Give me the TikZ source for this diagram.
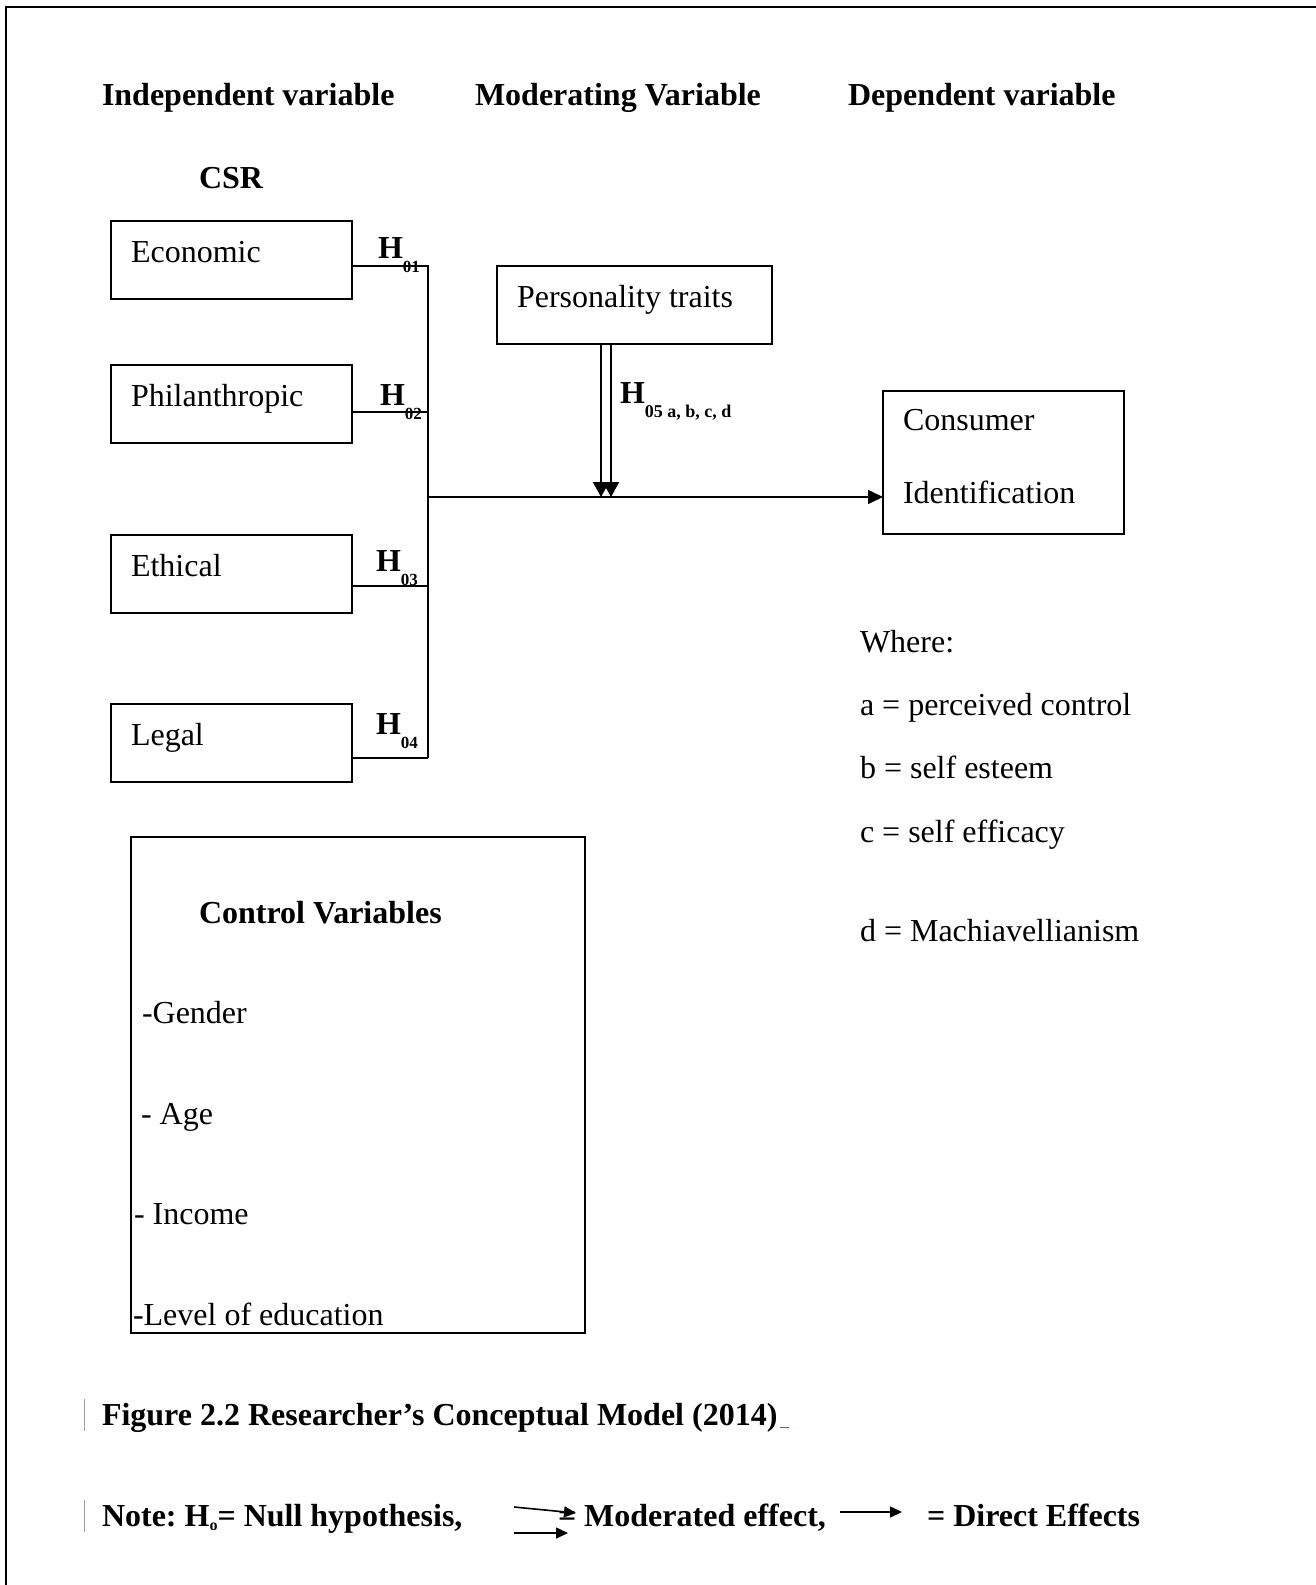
\documentclass[tikz,border=0pt]{standalone}
\usepackage{fontspec}
\setmainfont{Liberation Serif}
\usetikzlibrary{arrows.meta, positioning}
\definecolor{cInk}{HTML}{000000}
\definecolor{cBar}{HTML}{A0A0A0}
\definecolor{cLink}{HTML}{3C6EC0}
\frenchspacing
\newcommand{\hsub}[1]{\raisebox{-14pt}{\fontsize{17}{17}\selectfont #1}}
\newcommand{\hyp}[1]{\textbf{H\hsub{#1}}}
\tikzset{
  lab/.style={anchor=base west, inner sep=0pt, outer sep=0pt, text=cInk,
              font=\fontsize{32}{38}\selectfont},
  head/.style={lab, font=\fontsize{32}{38}\selectfont\bfseries},
  varbox/.style={draw=cInk, line width=1.6pt, anchor=north west, align=flush left, outer sep=0pt,
                 inner xsep=20pt, inner ysep=0pt, text height=41pt, text depth=37pt,
                 text width=201pt, text=cInk, font=\fontsize{32}{38}\selectfont},
  link/.style={draw=cInk, line width=1.6pt},
  direct/.style={link, -{Triangle[length=15pt, width=14pt]}},
  moder/.style={link, -{Triangle[length=15pt, width=16pt]}},
  keyarr/.style={link, -{Triangle[length=12pt, width=11pt]}},
  chbar/.style={draw=cBar, line width=1pt},
}

\begin{document}
\begin{tikzpicture}[x=1pt, y=-1pt]
  \useasboundingbox (0,0) rectangle (1316,1585);
  % ---- page frame (top and left only)
  \draw[link, line width=2pt] (1316,7) -- (6,7) -- (6,1585);

  % ---- column heads
  \node[head] (hind) at (102,105) {Independent variable};
  \node[head] (hmod) at (475,105) {Moderating Variable};
  \node[head] (hdep) at (848,105) {Dependent variable};
  \node[head] (csr)  at (199,188) {CSR};

  % ---- CSR dimensions
  \node[varbox] (econ)  at (111,221) {Economic};
  \node[varbox] (phil)  at (111,365) {Philanthropic};
  \node[varbox] (ethic) at (111,535) {Ethical};
  \node[varbox] (legal) at (111,704) {Legal};

  % ---- moderator and outcome
  \node[varbox, text width=235pt] (pers) at (497,266) {Personality traits};
  \node[varbox, text height=39pt, text depth=104pt, font=\fontsize{32}{73}\selectfont] (cons)
       at (883,391) {Consumer\\Identification};

  % ---- hypothesis paths into the bus
  \coordinate (j1) at (428,266);
  \coordinate (j2) at (428,412);
  \coordinate (j3) at (428,586);
  \coordinate (j4) at (428,758);
  \coordinate (jm) at (428,497);
  \draw[link] (econ.east |- j1) -- (j1) -- (j4);
  \draw[link] (phil.east |- j2) -- (j2);
  \draw[link] (ethic.east |- j3) -- (j3);
  \draw[link] (legal.east |- j4) -- (j4);
  \draw[direct] (jm) -- (jm -| cons.west);

  \node[lab] (h1) at (378,258) {\hyp{01}};
  \node[lab] (h2) at (380,405) {\hyp{02}};
  \node[lab] (h3) at (376,571) {\hyp{03}};
  \node[lab] (h4) at (376,734) {\hyp{04}};

  % ---- moderated effect
  \coordinate (m1) at (601,497);
  \coordinate (m2) at (611,497);
  \draw[moder] (m1 |- pers.south) -- (m1);
  \draw[moder] (m2 |- pers.south) -- (m2);
  \node[lab] (h5) at (620,403) {\textbf{H\raisebox{-14pt}{\fontsize{18}{18}\selectfont 05 a, b, c, d}}};

  % ---- key to the traits
  \node[lab] (where) at (860,652) {Where:};
  \node[lab] (ka) at (860,715) {a = perceived control};
  \node[lab] (kb) at (860,778) {b = self esteem};
  \node[lab] (kc) at (860,842) {c = self efficacy};
  \node[lab] (kd) at (860,941) {d = Machiavellianism};

  % ---- control variables
  \node[varbox, inner xsep=2pt, text width=450pt, text height=86pt, text depth=410pt,
        font=\fontsize{32}{100.5}\selectfont] (ctrl) at (131,837)
       {\hspace*{66pt}\textbf{Control Variables}\\
        \hspace*{9pt}-Gender\\
        \hspace*{8pt}- Age\\
        \hspace*{1pt}- Income\\
        -Level of education};

  % ---- caption and note
  \draw[chbar] (84,1399) -- (84,1431);
  \draw[chbar] (84,1500) -- (84,1532);
  \node[head] (cap) at (102,1425)
       {Figure 2.2 Researcher’s Conceptual Model (2014)\kern3pt\textcolor{cLink}{\rule[-3pt]{9pt}{1.2pt}}};
  \node[head] (note) at (102,1526)
       {Note: H\raisebox{-4pt}{\fontsize{16}{16}\selectfont o}= Null hypothesis,};
  \coordinate (k1s) at (514,1507);
  \coordinate (k1e) at (576,1513);
  \coordinate (k2s) at (514,1533);
  \coordinate (k2e) at (568,1533);
  \draw[keyarr] (k1s) -- (k1e);
  \draw[keyarr] (k2s) -- (k2e);
  \node[head] (nmod) at (558,1526) {= Moderated effect,};
  \coordinate (k3s) at (840,1512);
  \coordinate (k3e) at (902,1512);
  \draw[keyarr] (k3s) -- (k3e);
  \node[head] (ndir) at (927,1526) {= Direct Effects};
\end{tikzpicture}
\end{document}
